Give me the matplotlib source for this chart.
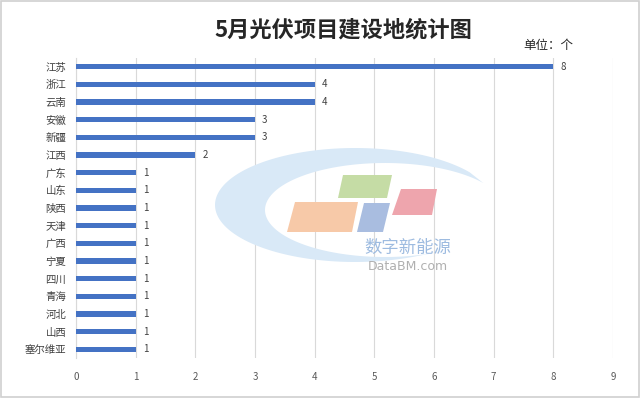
import matplotlib
matplotlib.use("Agg")
import matplotlib.pyplot as plt
from matplotlib.patches import Polygon, Rectangle
import numpy as np

plt.rcParams['font.family'] = ['Noto Sans CJK SC', 'DejaVu Sans']

categories = ["江苏", "浙江", "云南", "安徽", "新疆", "江西", "广东", "山东", "陕西",
              "天津", "广西", "宁夏", "四川", "青海", "河北", "山西", "塞尔维亚"]
values = [8, 4, 4, 3, 3, 2, 1, 1, 1, 1, 1, 1, 1, 1, 1, 1, 1]
xticks = list(range(0, 10))

W, H = 640, 398
fig = plt.figure(figsize=(W / 100, H / 100), dpi=100)

def P(x, y):
    return (x / W, 1 - y / H)

# watermark (background decoration)
t = np.linspace(np.radians(35), np.radians(295), 120)
outer = [P(355 + 140 * np.cos(a), 205 - 57 * np.sin(a)) for a in t]
inner = [P(385 + 120 * np.cos(a), 210 - 47 * np.sin(a)) for a in t[::-1]]
fig.patches.append(Polygon(outer + inner, closed=True, transform=fig.transFigure,
                           facecolor="#d9e9f7", edgecolor="none", zorder=0))
shapes = [
    ([(343, 175), (392, 175), (387, 198), (338, 198)], "#c5dca5"),
    ([(295, 202), (358, 202), (352, 232), (287, 232)], "#f7c9a8"),
    ([(364, 203), (390, 203), (383, 232), (357, 232)], "#a9bde0"),
    ([(401, 189), (437, 189), (432, 215), (392, 215)], "#eea5ad"),
]
for pts, col in shapes:
    fig.patches.append(Polygon([P(*p) for p in pts], closed=True, transform=fig.transFigure,
                               facecolor=col, edgecolor="none", zorder=0))
fig.text(*P(408, 248), "数字新能源", ha="center", va="center", fontsize=12.5,
         color="#9dbbe0", zorder=0)
fig.text(*P(408, 267), "DataBM.com", ha="center", va="center", fontsize=9,
         color="#b0b0b0", family="DejaVu Sans", zorder=0)

ax = fig.add_axes([76 / W, 40 / H, (613 - 76) / W, (356 - 56) / H])
ax.patch.set_alpha(0)
y = np.arange(len(categories))
ax.barh(y, values, height=0.3, color="#4472c4", zorder=3)
for yi, v in zip(y, values):
    ax.text(v + 0.12, yi, str(v), va="center", ha="left", fontsize=7, color="#404040")

ax.set_ylim(len(categories) - 0.5, -0.5)
ax.set_yticks(y)
ax.set_yticklabels(categories, fontsize=7.5, color="#404040")
ax.set_xlim(0, 9)
ax.set_xticks(xticks)
ax.set_xticklabels([str(x) for x in xticks], fontsize=7, color="#595959")
ax.tick_params(axis="x", length=0, pad=10)
ax.tick_params(axis="y", length=0, pad=7)
ax.grid(axis="x", color="#d9d9d9", linewidth=0.8, zorder=1)
for s in ["top", "right", "bottom"]:
    ax.spines[s].set_visible(False)
ax.spines["left"].set_color("#d9d9d9")
ax.spines["left"].set_linewidth(0.8)

fig.text(*P(343, 30), "5月光伏项目建设地统计图", ha="center", va="center",
         fontsize=16, fontweight="bold", color="#262626")
fig.text(*P(573, 45), "单位：个", ha="right", va="center", fontsize=9, color="#262626")

fig.patches.append(Rectangle((0.002, 0.003), 0.996, 0.994, transform=fig.transFigure,
                             facecolor="none", edgecolor="#d0d0d0", linewidth=1.2))

fig.savefig("out.png", dpi=100)
